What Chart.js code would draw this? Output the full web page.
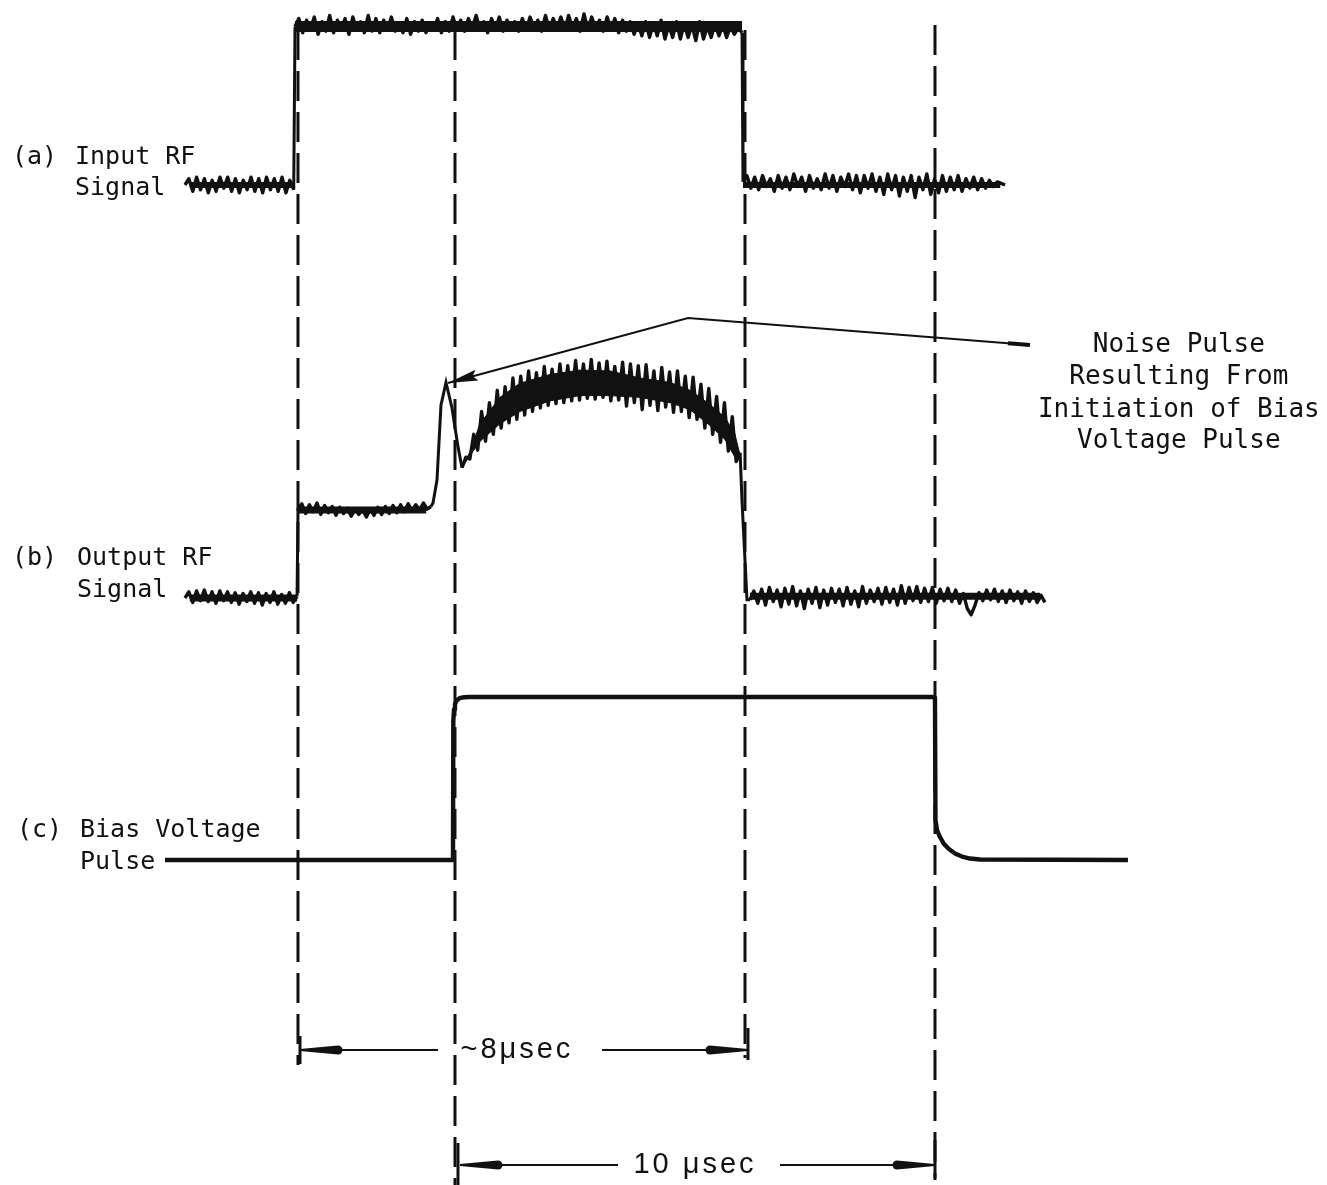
<!DOCTYPE html>
<html><head><meta charset="utf-8">
<script src="https://cdn.jsdelivr.net/npm/chart.js"></script>
<style>html,body{margin:0;padding:0;background:#fff}#wrap{width:1327px;height:1185px}</style>
</head><body><div id="wrap"><canvas id="c" width="1327" height="1185"></canvas></div>
<script>
// ---------- time axis (microseconds, 0 = start of the bias voltage pulse) ----------
const X_MIN = -9.479, X_MAX = 18.167;

// ---------- (a) Input RF Signal : 0 = off level, 100 = on level ----------
const aLeftT  = [-5.625, -3.36];
const aLeft   = [0, 4, -4, 5, -3, 4, -5, 3, -4, 5, -2, 5, -4, 4, -5, 3, -3, 5, -4, 4, -5, 5, -3, 4, -4, 5, -5, 3, -3];
const aTopT   = [-3.333, 5.98];
const aTop    = [101, 106, 97, 105, 99, 107, 96, 104, 98, 108,
                 97, 105, 100, 106, 96, 107, 99, 104, 97, 108,
                 98, 106, 97, 105, 99, 107, 98, 103, 97, 106,
                 96, 104, 98, 105, 97, 103, 99, 106, 97, 104,
                 98, 107, 99, 105, 98, 106, 100, 108, 99, 104,
                 97, 106, 99, 107, 98, 105, 100, 104, 98, 106,
                 99, 107, 100, 105, 98, 108, 99, 106, 100, 107,
                 99, 108, 100, 106, 98, 109, 99, 107, 100, 105,
                 98, 107, 99, 106, 97, 105, 98, 104, 96, 103,
                 95, 104, 94, 103, 95, 105, 93, 102, 94, 104,
                 93, 103, 94, 102, 92, 104, 93, 101, 94, 103,
                 95, 102, 94, 101, 96, 100, 97];
const aRightT = [6.0, 11.46];
const aRight  = [2, 6, -2, 5, -3, 6, -1, 4, -4, 6,
                 -2, 5, -3, 7, -1, 5, -4, 6, -2, 4,
                 -3, 7, -2, 6, -4, 5, -1, 7, -3, 6,
                 -5, 6, -2, 7, -4, 5, -6, 7, -3, 6,
                 -7, 5, -4, 6, -8, 5, -3, 7, -6, 4,
                 -5, 6, -4, 5, -3, 6, -4, 4, -2, 5,
                 -3, 4, -2, 3, -1, 2, 1, 0];
// mean level of each (a) segment
const aLevels = [0, 101, 0];

// ---------- (b) Output RF Signal : 0 = off level, 100 = level before bias ----------
const bLeftT  = [-5.625, -3.29];
const bLeft   = [0, 7, -5, 8, -3, 9, -4, 7, -6, 8, -3, 7, -5, 6, -7, 5, -4, 7, -6, 6, -8, 5, -5, 7, -7, 4, -6, 6, -5, 2];
const bPreT   = [-3.27, -0.5];
const bPre    = [102, 107, 96, 106, 98, 108, 95, 105, 97, 104, 94, 103, 96, 102, 93, 101, 95, 100,
                 92, 101, 94, 103, 95, 104, 96, 105, 97, 106, 98, 107, 99, 106, 100, 108, 101, 104];
const bSpikeT = [-0.458, -0.375, -0.292, -0.1875, -0.0625, 0.0625];
const bSpike  = [108, 134, 219, 245, 216, 172];
const bHumpT  = [0.146, 5.94];
const bHump   = [148, 160, 158, 186, 168, 212, 178, 222, 186, 236,
                 193, 240, 199, 250, 203, 252, 208, 258, 212, 256,
                 216, 263, 219, 260, 221, 266, 222, 264, 224, 270,
                 225, 266, 227, 271, 226, 267, 228, 269, 224, 263,
                 225, 268, 218, 266, 222, 264, 214, 265, 219, 258,
                 213, 262, 217, 257, 211, 258, 212, 252, 205, 251,
                 203, 243, 193, 238, 186, 229, 177, 222, 167, 206,
                 155, 165];
// solid inner part of the hump envelope (upper and lower edge)
const bHumpCoreT  = [0.146, 0.313, 0.521, 0.938, 1.354, 1.979, 2.604, 3.229, 3.854, 4.479, 4.896, 5.313, 5.625, 5.833, 5.94];
const bHumpCoreUp = [149, 166, 198, 228, 244, 254, 259, 258, 250, 245, 236, 220, 205, 186, 162];
const bHumpCoreLo = [148, 162, 178, 198, 212, 224, 230, 230, 228, 222, 214, 196, 180, 160, 160];
const bDropT  = [5.979, 6.042, 6.083];
const bDrop   = [111, 43, -2];
const bRightT = [6.146, 12.29];
const bRight  = [-2, 8, -6, 10, -8, 12, -4, 9, -10, 11,
                 -7, 13, -9, 8, -12, 10, -6, 12, -11, 9,
                 -8, 11, -5, 10, -9, 12, -7, 8, -10, 13,
                 -6, 9, -4, 11, -7, 12, -5, 10, -8, 14,
                 -6, 12, -3, 13, -5, 11, -4, 12, -6, 10,
                 -3, 11, -4, 9, -6, 5, -12, -19, -8, 6,
                 -3, 9, -2, 10, -4, 8, -5, 9, -3, 7,
                 -6, 8, -4, 6, -5, 3, -5];
const bLevels = [0, 100, 2];

// ---------- (c) Bias Voltage Pulse : 0 = off, 100 = on ----------
const cT = [-6.042, -0.0417, -0.035, -0.02, 0, 0.03, 0.0625, 0.1, 0.1458, 0.2708, 9.958, 9.99, 10.0, 10.01, 10.042, 10.104, 10.1875, 10.29, 10.417, 10.5625, 10.729, 10.9375, 14.02];
const cV = [0, 0, 85, 92.5, 95.7, 97.6, 98.6, 99.3, 99.7, 100, 100, 99.6, 98, 24.5, 18.4, 14.1, 9.8, 6.7, 4.0, 2.1, 0.9, 0.3, 0];

// ---------- annotations ----------
const guideT    = [-3.271, 0, 6.042, 10];
const guideTop  = [30, 30, 30, 25];
const guideBot  = [1065, 1185, 1058, 1180];

const dim8T   = [-3.229, -0.354, 3.063, 6.104];   // tick, gap start, gap end, tick
const dim8Y   = 1050;
const dim10T  = [0.104, 3.396, 6.771, 10];
const dim10Y  = 1165;
const dimLabels = ['~8\u03BCsec', '10 \u03BCsec'];
const dimLabelT = [1.29, 5.0];

const calloutT = [-0.146, 4.854, 11.979];
const calloutY = [383, 318, 345];
const calloutText = ['Noise Pulse', 'Resulting From', 'Initiation of Bias', 'Voltage Pulse'];
const calloutTextT = 15.08;
const calloutTextY = [345, 377, 410, 441];

const traceLabels = [
  {text: '(a)', t: -9.229, y: 157}, {text: 'Input RF', t: -7.917, y: 157}, {text: 'Signal', t: -7.917, y: 188},
  {text: '(b)', t: -9.229, y: 558}, {text: 'Output RF', t: -7.875, y: 558}, {text: 'Signal', t: -7.875, y: 590},
  {text: '(c)', t: -9.125, y: 830}, {text: 'Bias Voltage', t: -7.8125, y: 830}, {text: 'Pulse', t: -7.8125, y: 862}
];

// ---------- helpers ----------
const H = 1185;
function seg(range, vals) {
  const n = vals.length, step = (range[1] - range[0]) / (n - 1);
  return vals.map((v, i) => ({x: range[0] + i * step, y: v}));
}
function pts(ts, vs) { return ts.map((t, i) => ({x: t, y: vs[i]})); }
function flat(range, level) { return [{x: range[0], y: level}, {x: range[1], y: level}]; }
function traceAxis(p0, p100) {
  const span = (p0 - p100) / 100;
  return {type: 'linear', display: false, min: (p0 - H) / span, max: p0 / span};
}
const INK = '#111';

const A1 = seg(aLeftT, aLeft), A2 = seg(aTopT, aTop), A3 = seg(aRightT, aRight);
const B1 = seg(bLeftT, bLeft), B2 = seg(bPreT, bPre), B3 = seg(bHumpT, bHump), B4 = seg(bRightT, bRight);
const traceC = pts(cT, cV);

const datasets = [];
const add = ds => datasets.push(Object.assign({fill: false, borderColor: INK}, ds));
const noise = (data, axis) => ({data, yAxisID: axis, borderWidth: 3.4, borderJoinStyle: 'round'});
const core = (data, axis, w) => ({data, yAxisID: axis, borderWidth: w, borderCapStyle: 'butt'});
const edge = (data, axis, w) => ({data, yAxisID: axis, borderWidth: w || 3});

guideT.forEach((t, i) => add({
  data: [{x: t, y: guideTop[i]}, {x: t, y: guideBot[i]}], yAxisID: 'yPage',
  borderWidth: 3, borderDash: [30, 11]
}));
// (a) : dense core of each noisy segment, then the noise trace itself
add(core(flat([aLeftT[0] + 0.1, aLeftT[1]], aLevels[0]), 'ya', 6));
add(core(flat(aTopT, aLevels[1]), 'ya', 11));
add(core(flat([aRightT[0], aRightT[1] - 0.1], aLevels[2]), 'ya', 6));
add(noise(A1, 'ya'));
add(edge([A1[A1.length - 1], A2[0]], 'ya'));
add(noise(A2, 'ya'));
add(edge([A2[A2.length - 1], A3[0]], 'ya'));
add(noise(A3, 'ya'));
// (b)
add(core(flat([bLeftT[0] + 0.1, bLeftT[1]], bLevels[0]), 'yb', 7));
add(core(flat([bPreT[0], bPreT[1] - 0.1], bLevels[1]), 'yb', 7));
add({data: pts(bHumpCoreT, bHumpCoreUp), yAxisID: 'yb', borderWidth: 1, borderColor: INK, backgroundColor: INK, fill: '+1'});
add({data: pts(bHumpCoreT, bHumpCoreLo), yAxisID: 'yb', borderWidth: 1});
add(core(flat([bRightT[0], bRightT[1] - 0.1], bLevels[2]), 'yb', 7));
add(noise(B1, 'yb'));
add(edge([B1[B1.length - 1], B2[0]], 'yb'));
add(noise(B2, 'yb'));
add(edge([B2[B2.length - 1], ...pts(bSpikeT, bSpike), B3[0]], 'yb', 3));
add(noise(B3, 'yb'));
add(edge([B3[B3.length - 1], ...pts(bDropT, bDrop), B4[0]], 'yb', 3));
add(noise(B4, 'yb'));
// (c)
add({data: traceC, yAxisID: 'yc', borderWidth: 4.4, borderJoinStyle: 'round'});
// dimension lines
[[dim8T, dim8Y], [dim10T, dim10Y]].forEach(([T, y]) => {
  add(edge([{x: T[0], y}, {x: T[1], y}], 'yPage', 2));
  add(edge([{x: T[2], y}, {x: T[3], y}], 'yPage', 2));
});
// end ticks
add(edge([{x: dim8T[0], y: 1036}, {x: dim8T[0], y: 1064}], 'yPage'));
add(edge([{x: dim8T[3], y: 1028}, {x: dim8T[3], y: 1060}], 'yPage'));
add(edge([{x: 0.0625, y: 1143}, {x: 0.0625, y: 1185}], 'yPage'));
add(edge([{x: dim10T[3], y: 1140}, {x: dim10T[3], y: 1178}], 'yPage'));
// callout leader
add(edge(pts(calloutT, calloutY), 'yPage', 2));
add(edge([{x: 11.52, y: 343.3}, {x: calloutT[2], y: calloutY[2]}], 'yPage', 4));

function drawHead(ctx, tx, ty, fx, fy, len, w, round) {
  const ang = Math.atan2(fy - ty, fx - tx);
  ctx.save(); ctx.translate(tx, ty); ctx.rotate(ang);
  ctx.beginPath();
  if (round) {
    ctx.moveTo(0, -1); ctx.lineTo(len, -w);
    ctx.arc(len, 0, w, -Math.PI / 2, Math.PI / 2);
    ctx.lineTo(0, 1);
  } else {
    ctx.moveTo(0, 0); ctx.lineTo(len, -w); ctx.lineTo(len * 0.85, 0); ctx.lineTo(len, w);
  }
  ctx.closePath(); ctx.fill(); ctx.restore();
}

const overlay = {
  id: 'overlay',
  afterDatasetsDraw(chart) {
    const {ctx, scales} = chart;
    const X = v => scales.x.getPixelForValue(v);
    const Y = v => scales.yPage.getPixelForValue(v);
    ctx.save();
    ctx.fillStyle = INK;
    drawHead(ctx, X(dim8T[0]), Y(dim8Y), X(dim8T[1]), Y(dim8Y), 38, 4.5, true);
    drawHead(ctx, X(dim8T[3]), Y(dim8Y), X(dim8T[2]), Y(dim8Y), 38, 4.5, true);
    drawHead(ctx, X(dim10T[0]), Y(dim10Y), X(dim10T[1]), Y(dim10Y), 38, 4.5, true);
    drawHead(ctx, X(dim10T[3]), Y(dim10Y), X(dim10T[2]), Y(dim10Y), 38, 4.5, true);
    drawHead(ctx, X(calloutT[0]), Y(calloutY[0]), X(calloutT[1]), Y(calloutY[1]), 30, 5.5, false);
    ctx.textBaseline = 'middle';
    ctx.textAlign = 'left';
    ctx.font = '25px "DejaVu Sans Mono"';
    traceLabels.forEach(l => ctx.fillText(l.text, X(l.t), Y(l.y)));
    ctx.textAlign = 'center';
    ctx.font = '26px "DejaVu Sans Mono"';
    calloutText.forEach((s, i) => ctx.fillText(s, X(calloutTextT), Y(calloutTextY[i])));
    ctx.font = '29px "Liberation Sans"';
    try { ctx.letterSpacing = '3px'; } catch (e) {}
    ctx.fillText(dimLabels[0], X(dimLabelT[0]), Y(dim8Y));
    ctx.fillText(dimLabels[1], X(dimLabelT[1]), Y(dim10Y));
    ctx.restore();
  }
};

new Chart(document.getElementById('c'), {
  type: 'line',
  data: {datasets},
  options: {
    responsive: false, animation: false, events: [],
    layout: {padding: 0},
    plugins: {legend: {display: false}, tooltip: {enabled: false}, title: {display: false}},
    elements: {point: {radius: 0}, line: {tension: 0}},
    scales: {
      x: {type: 'linear', display: false, min: X_MIN, max: X_MAX},
      ya: traceAxis(185, 28),
      yb: traceAxis(598, 510),
      yc: traceAxis(860, 697),
      yPage: {type: 'linear', display: false, min: 0, max: H, reverse: true}
    }
  },
  plugins: [overlay]
});
</script>
</body></html>
